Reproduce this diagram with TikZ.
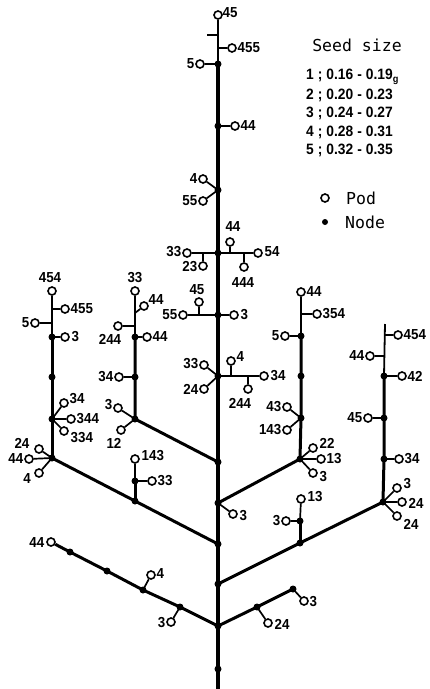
\documentclass[tikz,border=0pt]{standalone}
\usepackage{fontspec}
\newfontfamily\labfont[FakeStretch=0.92]{Liberation Sans}
\newfontfamily\legfont{DejaVu Sans Mono}
\newcommand\gp{\hspace{4pt}}
\begin{document}
\begin{tikzpicture}[x=1pt,y=-1pt,
 pod/.style={circle,draw,line width=1.6pt,fill=white,inner sep=0pt,minimum size=8pt},
 dot/.style={circle,fill,inner sep=0pt,minimum size=7pt},
 lb/.style={font={\labfont\bfseries\fontsize{14.5pt}{15pt}\selectfont},inner sep=0.5pt},
 row/.style={font={\labfont\bfseries\fontsize{15pt}{16pt}\selectfont},inner sep=0pt,anchor=west},
 leg/.style={font={\legfont\fontsize{16.5pt}{18pt}\selectfont},inner sep=0pt},
 stem/.style={line width=3.4pt},
 br/.style={line width=3pt},
 thinstem/.style={line width=1.8pt},
 con/.style={line width=1.7pt}]
\useasboundingbox (0,0) rectangle (430,689);

% ---------------- main stem ----------------
\node[pod] (m45) at (218,15) {};
\node[lb,anchor=west] (m45l) at (222,13) {45};
\coordinate (mt) at (218,35); \coordinate (mtl) at (207,35);
\coordinate (mj455) at (218,48);
\node[pod] (m455) at (232,48) {};
\node[lb,anchor=west] (m455l) at (237,48) {455};
\node[dot] (m1) at (218,64) {};
\node[pod] (m1p) at (200,64) {};
\node[lb,anchor=east] (m1pl) at (195,64) {5};
\node[dot] (m2) at (218,126) {};
\node[pod] (m2p) at (235,126) {};
\node[lb,anchor=west] (m2pl) at (240,126) {44};
\node[dot] (m3) at (218,190) {};
\node[pod] (m3a) at (203,179) {};
\node[lb,anchor=east] (m3al) at (198,179) {4};
\node[pod] (m3b) at (203,201) {};
\node[lb,anchor=east] (m3bl) at (198,201) {55};
\node[dot] (m4) at (218,253) {};
\node[pod] (m4a) at (187,253) {};
\node[lb,anchor=east] (m4al) at (182,252) {33};
\coordinate (m4j23) at (203,253);
\node[pod] (m4b) at (203,266) {};
\node[lb,anchor=east] (m4bl) at (198,267) {23};
\coordinate (m4j44) at (230,253);
\node[pod] (m4c) at (230,242) {};
\node[lb] (m4cl) at (233,227) {44};
\coordinate (m4j444) at (244,253);
\node[pod] (m4d) at (244,267) {};
\node[lb] (m4dl) at (243,283) {444};
\node[pod] (m4e) at (258,253) {};
\node[lb,anchor=west] (m4el) at (264,252) {54};
\node[dot] (m5) at (218,315) {};
\node[pod] (m5a) at (183,315) {};
\node[lb,anchor=east] (m5al) at (178,315) {55};
\coordinate (m5j45) at (199,315);
\node[pod] (m5b) at (199,302) {};
\node[lb] (m5bl) at (197,290) {45};
\node[pod] (m5c) at (234,315) {};
\node[lb,anchor=west] (m5cl) at (240,315) {3};
\node[dot] (m6) at (218,376) {};
\node[pod] (m6a) at (204,365) {};
\node[lb,anchor=east] (m6al) at (199,364) {33};
\node[pod] (m6b) at (204,389) {};
\node[lb,anchor=east] (m6bl) at (199,389) {24};
\coordinate (m6j4) at (231,376);
\node[pod] (m6c) at (231,361) {};
\node[lb,anchor=west] (m6cl) at (236,357) {4};
\coordinate (m6j244) at (248,376);
\node[pod] (m6d) at (248,389) {};
\node[lb] (m6dl) at (240,403) {244};
\node[pod] (m6e) at (264,376) {};
\node[lb,anchor=west] (m6el) at (270,376) {34};
\node[dot] (m7) at (218,462) {};
\node[dot] (m8) at (218,503) {};
\node[pod] (m8p) at (233,514) {};
\node[lb,anchor=west] (m8pl) at (239,516) {3};
\node[dot] (m9) at (218,544) {};
\node[dot] (m10) at (218,584) {};
\node[dot] (m11) at (218,626) {};
\node[dot] (m12) at (218,669) {};
\coordinate (mend) at (218,689);

\draw[thinstem] (m45) -- (m1.center);
\draw[thinstem] (mt) -- (mtl);
\draw[con] (mj455) -- (m455);
\draw[stem] (m1.center) -- (m2.center) -- (m3.center) -- (m4.center) -- (m5.center)
  -- (m6.center) -- (m7.center) -- (m8.center) -- (m9.center) -- (m10.center)
  -- (m11.center) -- (m12.center) -- (mend);
\draw[con] (m1.center) -- (m1p);
\draw[con] (m2.center) -- (m2p);
\draw[con] (m3.center) -- (m3a);
\draw[con] (m3.center) -- (m3b);
\draw[con] (m4a) -- (m4.center) -- (m4e);
\draw[con] (m4j23) -- (m4b);
\draw[con] (m4j44) -- (m4c);
\draw[con] (m4j444) -- (m4d);
\draw[con] (m5a) -- (m5.center) -- (m5c);
\draw[con] (m5j45) -- (m5b);
\draw[con] (m6.center) -- (m6a);
\draw[con] (m6.center) -- (m6b);
\draw[con] (m6.center) -- (m6e);
\draw[con] (m6j4) -- (m6c);
\draw[con] (m6j244) -- (m6d);
\draw[con] (m8.center) -- (m8p);

% ---------------- branch A (x=52) ----------------
\node[pod] (a454) at (52,291) {};
\node[lb] (a454l) at (50,278) {454};
\coordinate (aj455) at (52,309);
\node[pod] (a455) at (65,309) {};
\node[lb,anchor=west] (a455l) at (70,309) {455};
\coordinate (aj5) at (52,323);
\node[pod] (a5) at (35,323) {};
\node[lb,anchor=east] (a5l) at (30,323) {5};
\node[dot] (a1) at (52,337) {};
\node[pod] (a1p) at (65,337) {};
\node[lb,anchor=west] (a1pl) at (71,337) {3};
\node[dot] (a2) at (52,377) {};
\node[dot] (a3) at (52,419) {};
\node[pod] (a3a) at (64,403) {};
\node[lb,anchor=west] (a3al) at (69,399) {34};
\node[pod] (a3b) at (71,419) {};
\node[lb,anchor=west] (a3bl) at (76,419) {344};
\node[pod] (a3c) at (64,431) {};
\node[lb,anchor=west] (a3cl) at (70,438) {334};
\node[dot] (a4) at (52,458) {};
\node[pod] (a4a) at (39,449) {};
\node[lb] (a4al) at (22,443) {24};
\node[pod] (a4b) at (29,459) {};
\node[lb,anchor=east] (a4bl) at (24,459) {44};
\node[pod] (a4c) at (39,473) {};
\node[lb] (a4cl) at (27,479) {4};

\draw[thinstem] (a454) -- (a1.center);
\draw[br] (a1.center) -- (a2.center) -- (a3.center) -- (a4.center);
\draw[con] (aj455) -- (a455);
\draw[con] (aj5) -- (a5);
\draw[con] (a1.center) -- (a1p);
\draw[con] (a3.center) -- (a3a);
\draw[con] (a3.center) -- (a3b);
\draw[con] (a3.center) -- (a3c);
\draw[con] (a4.center) -- (a4a);
\draw[con] (a4.center) -- (a4b);
\draw[con] (a4.center) -- (a4c);

% ---------------- branch B (x=135) ----------------
\node[pod] (b33) at (135,291) {};
\node[lb] (b33l) at (135,278) {33};
\coordinate (bj44) at (135,313);
\node[pod] (b44) at (144,306) {};
\node[lb,anchor=west] (b44l) at (148,300) {44};
\coordinate (bj244) at (135,326);
\node[pod] (b244) at (118,326) {};
\node[lb] (b244l) at (110,339) {244};
\node[dot] (b1) at (135,337) {};
\node[pod] (b1p) at (147,337) {};
\node[lb,anchor=west] (b1pl) at (152,337) {44};
\node[dot] (b2) at (135,377) {};
\node[pod] (b2p) at (119,377) {};
\node[lb,anchor=east] (b2pl) at (114,377) {34};
\node[dot] (b3) at (135,419) {};
\node[pod] (b3a) at (118,408) {};
\node[lb,anchor=east] (b3al) at (113,405) {3};
\node[pod] (b3b) at (121,430) {};
\node[lb] (b3bl) at (114,443) {12};

\draw[thinstem] (b33) -- (b1.center);
\draw[br] (b1.center) -- (b2.center) -- (b3.center) -- (m7.center);
\draw[con] (bj44) -- (b44);
\draw[con] (bj244) -- (b244);
\draw[con] (b1.center) -- (b1p);
\draw[con] (b2.center) -- (b2p);
\draw[con] (b3.center) -- (b3a);
\draw[con] (b3.center) -- (b3b);

% ---------------- branch C (lower left) ----------------
\node[dot] (c0) at (135,501) {};
\node[dot] (c1) at (135,481) {};
\node[pod] (c1p) at (152,481) {};
\node[lb,anchor=west] (c1pl) at (157,481) {33};
\node[pod] (c143) at (135,459) {};
\node[lb,anchor=west] (c143l) at (141,456) {143};

\draw[br] (a4.center) -- (c0.center) -- (m9.center);
\draw[br] (c0.center) -- (c1.center);
\draw[con] (c1.center) -- (c143);
\draw[con] (c1.center) -- (c1p);

% ---------------- branch D (x=301) ----------------
\node[pod] (d44) at (301,292) {};
\node[lb,anchor=west] (d44l) at (306,292) {44};
\coordinate (dj354) at (301,314);
\node[pod] (d354) at (317,314) {};
\node[lb,anchor=west] (d354l) at (322,314) {354};
\node[dot] (d1) at (301,336) {};
\node[pod] (d1p) at (285,336) {};
\node[lb,anchor=east] (d1pl) at (280,336) {5};
\node[dot] (d2) at (301,376) {};
\node[dot] (d3) at (301,418) {};
\node[pod] (d3a) at (287,407) {};
\node[lb,anchor=east] (d3al) at (282,407) {43};
\node[pod] (d3b) at (287,430) {};
\node[lb,anchor=east] (d3bl) at (282,430) {143};
\node[dot] (d4) at (300,459) {};
\node[pod] (d4a) at (313,448) {};
\node[lb,anchor=west] (d4al) at (319,443) {22};
\node[pod] (d4b) at (321,459) {};
\node[lb,anchor=west] (d4bl) at (326,459) {13};
\node[pod] (d4c) at (313,473) {};
\node[lb,anchor=west] (d4cl) at (319,477) {3};

\draw[thinstem] (d44) -- (d1.center);
\draw[br] (d1.center) -- (d2.center) -- (d3.center) -- (d4.center) -- (m8.center);
\draw[con] (dj354) -- (d354);
\draw[con] (d1.center) -- (d1p);
\draw[con] (d3.center) -- (d3a);
\draw[con] (d3.center) -- (d3b);
\draw[con] (d4.center) -- (d4a);
\draw[con] (d4.center) -- (d4b);
\draw[con] (d4.center) -- (d4c);

% ---------------- branch E (x=384) ----------------
\coordinate (e0) at (385,324);
\coordinate (ej454) at (385,335);
\node[pod] (e454) at (398,335) {};
\node[lb,anchor=west] (e454l) at (403,335) {454};
\coordinate (ej44) at (385,356);
\node[pod] (e44) at (370,356) {};
\node[lb,anchor=east] (e44l) at (365,356) {44};
\node[dot] (e1) at (384,376) {};
\node[pod] (e1p) at (402,376) {};
\node[lb,anchor=west] (e1pl) at (407,376) {42};
\node[dot] (e2) at (384,418) {};
\node[pod] (e2p) at (368,418) {};
\node[lb,anchor=east] (e2pl) at (363,418) {45};
\node[dot] (e3) at (384,459) {};
\node[pod] (e3p) at (399,459) {};
\node[lb,anchor=west] (e3pl) at (404,459) {34};
\node[dot] (e4) at (383,502) {};
\node[pod] (e4a) at (397,488) {};
\node[lb,anchor=west] (e4al) at (403,484) {3};
\node[pod] (e4b) at (402,502) {};
\node[lb,anchor=west] (e4bl) at (408,503) {24};
\node[pod] (e4c) at (397,516) {};
\node[lb,anchor=west] (e4cl) at (403,524) {24};

\draw[thinstem] (e0) -- (e1.center);
\draw[br] (e1.center) -- (e2.center) -- (e3.center) -- (e4.center);
\draw[con] (ej454) -- (e454);
\draw[con] (ej44) -- (e44);
\draw[con] (e1.center) -- (e1p);
\draw[con] (e2.center) -- (e2p);
\draw[con] (e3.center) -- (e3p);
\draw[con] (e4.center) -- (e4a);
\draw[con] (e4.center) -- (e4b);
\draw[con] (e4.center) -- (e4c);

% ---------------- branch F (lower right) ----------------
\node[dot] (f1) at (300,543) {};
\node[dot] (f2) at (300,521) {};
\node[pod] (f2p) at (286,521) {};
\node[lb,anchor=east] (f2pl) at (281,521) {3};
\node[pod] (f13) at (301,499) {};
\node[lb,anchor=west] (f13l) at (307,497) {13};

\draw[br] (m10.center) -- (f1.center) -- (e4.center);
\draw[br] (f1.center) -- (f2.center);
\draw[con] (f2.center) -- (f13);
\draw[con] (f2.center) -- (f2p);

% ---------------- branch G (bottom left) ----------------
\node[pod] (g44) at (51,542) {};
\node[lb,anchor=east] (g44l) at (45,543) {44};
\node[dot] (g1) at (70,552) {};
\node[dot] (g2) at (107,571) {};
\node[dot] (g3) at (143,590) {};
\node[dot] (g4) at (180,607) {};
\node[pod] (g3p) at (151,575) {};
\node[lb,anchor=west] (g3pl) at (156,574) {4};
\node[pod] (g4p) at (171,622) {};
\node[lb,anchor=east] (g4pl) at (166,623) {3};

\draw[br] (g44) -- (g1.center) -- (g2.center) -- (g3.center) -- (g4.center) -- (m11.center);
\draw[con] (g3.center) -- (g3p);
\draw[con] (g4.center) -- (g4p);

% ---------------- branch H (bottom right) ----------------
\node[dot] (h1) at (257,607) {};
\node[dot] (h2) at (293,589) {};
\node[pod] (h2p) at (304,601) {};
\node[lb,anchor=west] (h2pl) at (309,602) {3};
\node[pod] (h1p) at (268,623) {};
\node[lb,anchor=west] (h1pl) at (274,624) {24};

\draw[br] (m11.center) -- (h1.center) -- (h2.center);
\draw[con] (h2.center) -- (h2p);
\draw[con] (h1.center) -- (h1p);

% ---------------- legend ----------------
\node[leg] (title) at (357,45) {Seed size};
\node[row] (r1) at (306,77) {1\gp;\gp0.16\gp-\gp0.19\raisebox{-2.5pt}{\fontsize{10pt}{10pt}\selectfont g}};
\node[row] (r2) at (306,95) {2\gp;\gp0.20\gp-\gp0.23};
\node[row] (r3) at (306,113) {3\gp;\gp0.24\gp-\gp0.27};
\node[row] (r4) at (306,132) {4\gp;\gp0.28\gp-\gp0.31};
\node[row] (r5) at (306,150) {5\gp;\gp0.32\gp-\gp0.35};
\node[pod] (lp) at (325,198) {};
\node[leg,anchor=west] (lpt) at (346,198) {Pod};
\node[dot,minimum size=6pt] (ln) at (325,222) {};
\node[leg,anchor=west] (lnt) at (345,222) {Node};
\end{tikzpicture}
\end{document}
